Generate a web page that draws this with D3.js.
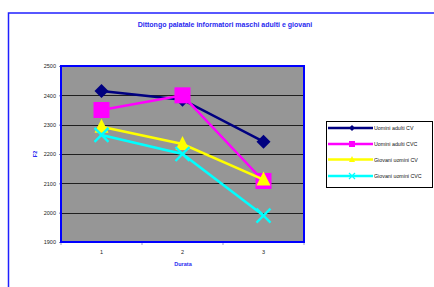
<!DOCTYPE html>
<html>
<head>
<meta charset="utf-8">
<script src="https://cdn.jsdelivr.net/npm/d3@7"></script>
<style>
  html, body { margin: 0; padding: 0; background: #fff; }
  svg { display: block; font-family: "Liberation Sans", Arial, sans-serif; }
</style>
</head>
<body>
<div id="chart"></div>
<script>
// Data
const categories = ["1", "2", "3"];
const yTicks = [1900, 2000, 2100, 2200, 2300, 2400, 2500];
const seriesNames = ["Uomini adulti CV", "Uomini adulti CVC", "Giovani uomini CV", "Giovani uomini CVC"];
const uominiCV = [2415, 2385, 2242];
const uominiCVC = [2350, 2400, 2108];
const giovaniCV = [2293, 2234, 2113];
const giovaniCVC = [2265, 2200, 1990];

const seriesColors = ["#000080", "#ff00ff", "#ffff00", "#00ffff"];
const seriesMarkers = ["diamond", "square", "triangle", "cross"];
const seriesValues = [uominiCV, uominiCVC, giovaniCV, giovaniCVC];

const W = 434, H = 287;
const plot = { left: 61, top: 66, right: 304, bottom: 242 };

const svg = d3.select("#chart").append("svg")
  .attr("width", W).attr("height", H);

// outer chart frame (runs off the right and bottom edges)
svg.append("path")
  .attr("d", `M8.5,${H + 2} V13 H${W + 2}`)
  .attr("fill", "none").attr("stroke", "#2020ff").attr("stroke-width", 1.5);

svg.append("text")
  .attr("x", 225).attr("y", 27)
  .attr("text-anchor", "middle")
  .attr("font-size", 7).attr("font-weight", "bold").attr("fill", "#2a2af0")
  .text("Dittongo palatale informatori maschi adulti e giovani");

const x = d3.scaleBand().domain(categories).range([plot.left, plot.right]);
const y = d3.scaleLinear().domain([1900, 2500]).range([plot.bottom, plot.top]);

// plot area
svg.append("rect")
  .attr("x", plot.left).attr("y", plot.top)
  .attr("width", plot.right - plot.left).attr("height", plot.bottom - plot.top)
  .attr("fill", "#969696");

// gridlines
svg.append("g").selectAll("line")
  .data(yTicks.filter(d => d > 1900 && d < 2500)).join("line")
  .attr("x1", plot.left).attr("x2", plot.right)
  .attr("y1", d => Math.round(y(d)) + 0.5).attr("y2", d => Math.round(y(d)) + 0.5)
  .attr("stroke", "#000").attr("stroke-width", 0.8);

// axes
const yAxis = svg.append("g")
  .attr("transform", `translate(${plot.left},0)`)
  .call(d3.axisLeft(y).tickValues(yTicks).tickSize(2).tickPadding(3).tickFormat(d3.format("d")));
yAxis.select(".domain").remove();
yAxis.selectAll("text").attr("font-size", 5.5).attr("fill", "#222").attr("font-family", "Liberation Sans, Arial");
yAxis.selectAll("line").attr("stroke", "#8080c0");

const xAxis = svg.append("g")
  .attr("transform", `translate(0,${plot.bottom})`)
  .call(d3.axisBottom(x).tickSize(0).tickPadding(8));
xAxis.select(".domain").remove();
xAxis.selectAll("text").attr("font-size", 5.5).attr("fill", "#222").attr("font-family", "Liberation Sans, Arial");
svg.append("g").selectAll("line")
  .data([0, 1, 2, 3]).join("line")
  .attr("x1", i => plot.left + i * x.bandwidth()).attr("x2", i => plot.left + i * x.bandwidth())
  .attr("y1", plot.bottom).attr("y2", plot.bottom + 3)
  .attr("stroke", "#8080c0").attr("stroke-width", 0.8);

// plot border
svg.append("rect")
  .attr("x", plot.left).attr("y", plot.top)
  .attr("width", plot.right - plot.left).attr("height", plot.bottom - plot.top)
  .attr("fill", "none").attr("stroke", "#0000ff").attr("stroke-width", 2);

// axis titles
svg.append("text")
  .attr("transform", `translate(37,154) rotate(-90)`)
  .attr("text-anchor", "middle")
  .attr("font-size", 5.5).attr("font-weight", "bold").attr("fill", "#2a2af0")
  .text("F2");
svg.append("text")
  .attr("x", 183).attr("y", 266)
  .attr("text-anchor", "middle")
  .attr("font-size", 5.5).attr("font-weight", "bold").attr("fill", "#2a2af0")
  .text("Durata");

function marker(g, type, color, size) {
  const s = size;
  if (type === "diamond") {
    g.append("path").attr("d", `M0,${-s} L${s},0 L0,${s} L${-s},0Z`).attr("fill", color);
  } else if (type === "square") {
    g.append("rect").attr("x", -s).attr("y", -s).attr("width", 2 * s).attr("height", 2 * s).attr("fill", color);
  } else if (type === "triangle") {
    g.append("path").attr("d", `M0,${-s * 1.15} L${s},${s * 0.85} L${-s},${s * 0.85}Z`).attr("fill", color);
  } else {
    g.append("path").attr("d", `M${-s},${-s} L${s},${s} M${s},${-s} L${-s},${s}`)
      .attr("stroke", color).attr("stroke-width", Math.max(1.2, s / 3));
  }
}

const line = d3.line().x((d, i) => x(categories[i]) + x.bandwidth() / 2).y(d => y(d));
const cx = i => x(categories[i]) + x.bandwidth() / 2;

seriesValues.forEach((vals, k) => {
  svg.append("path").datum(vals)
    .attr("d", line).attr("fill", "none")
    .attr("stroke", seriesColors[k]).attr("stroke-width", 2.5);
  vals.forEach((v, i) => {
    const g = svg.append("g").attr("transform", `translate(${cx(i)},${y(v)})`);
    marker(g, seriesMarkers[k], seriesColors[k], k === 1 ? 8 : 7);
  });
});

// legend
const leg = svg.append("g");
leg.append("rect")
  .attr("x", 326.5).attr("y", 121.5).attr("width", 106).attr("height", 66)
  .attr("fill", "#fff").attr("stroke", "#000").attr("stroke-width", 1);
const legY = [128, 144, 159.5, 176];
seriesNames.forEach((name, k) => {
  leg.append("line")
    .attr("x1", 328).attr("x2", 373).attr("y1", legY[k]).attr("y2", legY[k])
    .attr("stroke", seriesColors[k]).attr("stroke-width", 2.5);
  const g = leg.append("g").attr("transform", `translate(352,${legY[k]})`);
  marker(g, seriesMarkers[k], seriesColors[k], 3);
  leg.append("text")
    .attr("x", 374).attr("y", legY[k] + 2)
    .attr("font-size", 5.3).attr("fill", "#111")
    .text(name);
});
</script>
</body>
</html>
